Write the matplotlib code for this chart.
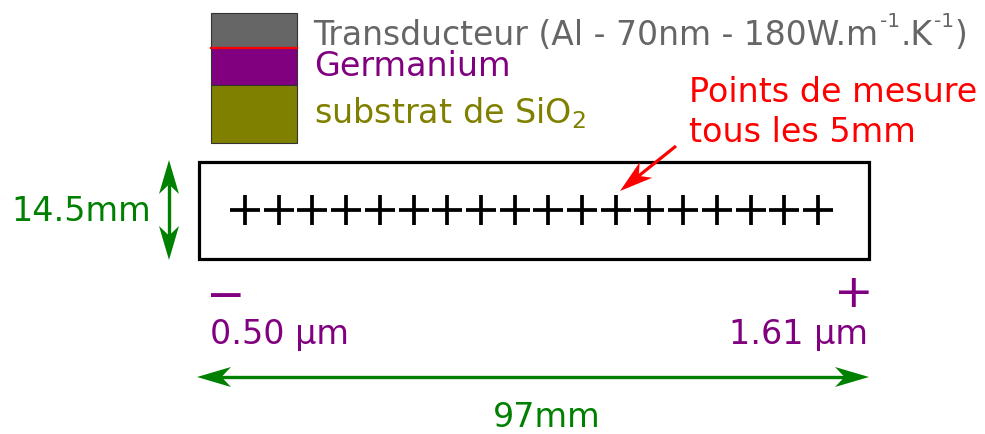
#!/usr/bin/env python3
# -*- coding: utf-8 -*-
"""
Schema de l'echantillon : empilement des couches et points de mesure
"""

import matplotlib.pyplot as plt
from matplotlib.patches import Rectangle, Polygon
import numpy as np

# --- donnees ---
# libelle du transducteur : (morceau, exposant ?)
transducer_parts = [('Transducteur (Al - 70nm - 180W.m', False), ('-1', True),
                    ('.K', False), ('-1', True), (')', False)]
layer_labels = ['', 'Germanium', r'substrat de SiO$_2$']
layer_colors = ['#666666', '#800080', '#808000']
measure_mm = [0, 5, 10, 15, 20, 25, 30, 35, 40, 45, 50, 55, 60, 65, 70, 75, 80, 85]
sample_length_mm = 97
sample_width_mm = 14.5
ge_thickness_um = [0.50, 1.61]

GREEN = '#008000'
PURPLE = '#800080'
RED = '#ff0000'
FS = 24
FS_TR = 23.8
FS_SUP = 14.5


def setup_fonts():
    plt.rcParams['font.family'] = ['DejaVu Sans']
    plt.rcParams['mathtext.fontset'] = 'dejavusans'
    plt.rcParams['mathtext.default'] = 'regular'


def arrow_head(ax, tip, back, color, width=20):
    """Pointe de fleche concave (style Inkscape)"""
    tip = np.array(tip, float)
    back = np.array(back, float)
    d = tip - back
    L = np.hypot(*d)
    d = d / L
    n = np.array([-d[1], d[0]])
    pts = [tip, back + n * width / 2, tip - d * L * 0.72, back - n * width / 2]
    ax.add_patch(Polygon(pts, closed=True, facecolor=color, edgecolor='none'))
    return tip - d * L * 0.7


def double_arrow(ax, p0, p1, color, lw=2.4, head=34):
    p0 = np.array(p0, float)
    p1 = np.array(p1, float)
    d = (p1 - p0) / np.hypot(*(p1 - p0))
    a = arrow_head(ax, p0, p0 + d * head, color)
    b = arrow_head(ax, p1, p1 - d * head, color)
    ax.plot([a[0], b[0]], [a[1], b[1]], color=color, lw=lw, solid_capstyle='butt')


setup_fonts()
fig = plt.figure(figsize=(9.85, 4.34), dpi=100)
ax = fig.add_axes([0, 0, 1, 1])
ax.set_xlim(0, 985)
ax.set_ylim(434, 0)
ax.axis('off')
renderer = fig.canvas.get_renderer()

# empilement des couches (legende)
tops = [13, 48, 85]
bottoms = [48, 85, 143]
baselines = [45, 76, 123]
for lab, col, t, b, yb in zip(layer_labels, layer_colors, tops, bottoms, baselines):
    ax.add_patch(Rectangle((211, t), 86, b - t, facecolor=col,
                           edgecolor='#333333', lw=0.8))
    if lab:
        ax.text(314, yb, lab, color=col, fontsize=FS, va='baseline', ha='left')
ax.plot([211, 297], [48, 48], color=RED, lw=1.6)

# libelle du transducteur avec exposants
x = 313
for s, sup in transducer_parts:
    t = ax.text(x + (2 if sup else 0), baselines[0] - (18 if sup else 0), s,
                color=layer_colors[0], fontsize=FS_SUP if sup else FS_TR,
                va='baseline', ha='left')
    x = t.get_window_extent(renderer).x1

# echantillon
ax.add_patch(Rectangle((198.5, 161.5), 670, 97, facecolor='white',
                       edgecolor='black', lw=2.3))

# points de mesure (axe en mm)
axp = fig.add_axes([245 / 985, (434 - 230) / 434, (818 - 245) / 985, 40 / 434])
axp.set_xlim(measure_mm[0], measure_mm[-1])
axp.set_ylim(-1, 1)
axp.axis('off')
axp.plot(measure_mm, np.zeros(len(measure_mm)), linestyle='none', marker='+',
         markersize=21.5, markeredgewidth=2.7, color='black', clip_on=False)

# annotation rouge
ax.text(689, 102, 'Points de mesure', color=RED, fontsize=FS, va='baseline')
ax.text(689, 142, 'tous les 5mm', color=RED, fontsize=FS, va='baseline')
n = arrow_head(ax, (620, 191), (646, 170), RED, width=20)
ax.plot([676, n[0]], [146, n[1]], color=RED, lw=2.3, solid_capstyle='butt')

# largeur
double_arrow(ax, (169, 160), (169, 260), GREEN)
ax.text(11, 221, f'{sample_width_mm}mm', color=GREEN, fontsize=FS, va='baseline')

# gradient d'epaisseur de Ge
ax.text(225.5, 310, '\u2212', color=PURPLE, fontsize=34, ha='center', va='baseline')
ax.text(854, 307, '+', color=PURPLE, fontsize=34, ha='center', va='baseline')
ax.text(210, 344, f'{ge_thickness_um[0]:.2f} \u00b5m', color=PURPLE,
        fontsize=FS, va='baseline', ha='left')
ax.text(868, 344, f'{ge_thickness_um[1]:.2f} \u00b5m', color=PURPLE,
        fontsize=FS, va='baseline', ha='right')

# longueur
double_arrow(ax, (197, 377), (869, 377), GREEN)
ax.text(547, 427, f'{sample_length_mm}mm', color=GREEN, fontsize=FS,
        va='baseline', ha='center')

plt.savefig('out.png', dpi=100)
plt.close()
